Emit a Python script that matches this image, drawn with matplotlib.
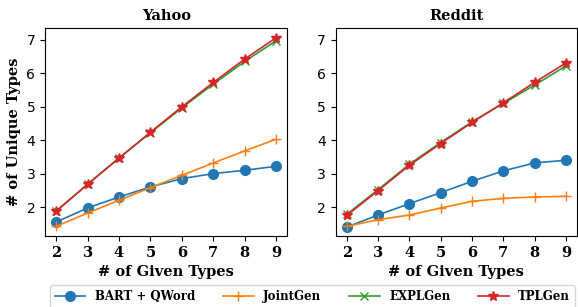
import matplotlib
matplotlib.use("Agg")
import matplotlib.pyplot as plt

# ── data ──────────────────────────────────────────────
given = [2, 3, 4, 5, 6, 7, 8, 9]
methods = ["BART + QWord", "JointGen", "EXPLGen", "TPLGen"]

yahoo_bart = [1.55, 1.97, 2.30, 2.60, 2.85, 3.00, 3.10, 3.22]
yahoo_joint = [1.42, 1.82, 2.20, 2.58, 2.95, 3.32, 3.68, 4.03]
yahoo_expl = [1.88, 2.68, 3.47, 4.22, 4.97, 5.68, 6.36, 6.98]
yahoo_tpl = [1.87, 2.68, 3.46, 4.24, 5.00, 5.73, 6.43, 7.07]

reddit_bart = [1.40, 1.76, 2.10, 2.43, 2.77, 3.08, 3.32, 3.40]
reddit_joint = [1.42, 1.62, 1.76, 1.97, 2.17, 2.26, 2.30, 2.32]
reddit_expl = [1.78, 2.52, 3.28, 3.93, 4.55, 5.10, 5.65, 6.22]
reddit_tpl = [1.75, 2.49, 3.25, 3.90, 4.53, 5.12, 5.73, 6.31]

styles = [("tab:blue", "o", 7), ("tab:orange", "+", 7),
          ("tab:green", "x", 6), ("tab:red", "*", 7.5)]

serif = "DejaVu Serif"

fig = plt.figure(figsize=(5.78, 3.07), dpi=100)
ax1 = fig.add_axes([0.078, 0.231, 0.419, 0.678])
ax2 = fig.add_axes([0.581, 0.231, 0.417, 0.678])

panels = [
    (ax1, "Yahoo", [yahoo_bart, yahoo_joint, yahoo_expl, yahoo_tpl]),
    (ax2, "Reddit", [reddit_bart, reddit_joint, reddit_expl, reddit_tpl]),
]

for ax, title, series in panels:
    for name, vals, (c, m, ms) in zip(methods, series, styles):
        ax.plot(given, vals, color=c, marker=m, markersize=ms, linewidth=1.2, label=name)
    ax.set_title(title, fontsize=10.5, fontweight="bold", family=serif)
    ax.set_xlabel("# of Given Types", fontsize=10.5, fontweight="bold", family=serif)
    ax.set_xticks(given)
    ax.set_xticklabels([str(g) for g in given], fontsize=10.5, fontweight="bold", family=serif)
    ax.set_ylim(1.13, 7.36)
    ax.set_yticks([2, 3, 4, 5, 6, 7])
    ax.tick_params(axis="y", labelsize=10)

ax1.set_ylabel("# of Unique Types", fontsize=10.5, fontweight="bold", family=serif)

handles, labels = ax1.get_legend_handles_labels()
fig.legend(handles, labels, loc="lower left", ncol=4, mode="expand",
           bbox_to_anchor=(0.0865, -0.003, 0.908, 0.085),
           prop={"family": serif, "weight": "bold", "size": 8.5},
           handlelength=2.6, borderaxespad=0, frameon=True)

plt.savefig("out.png", dpi=100)
